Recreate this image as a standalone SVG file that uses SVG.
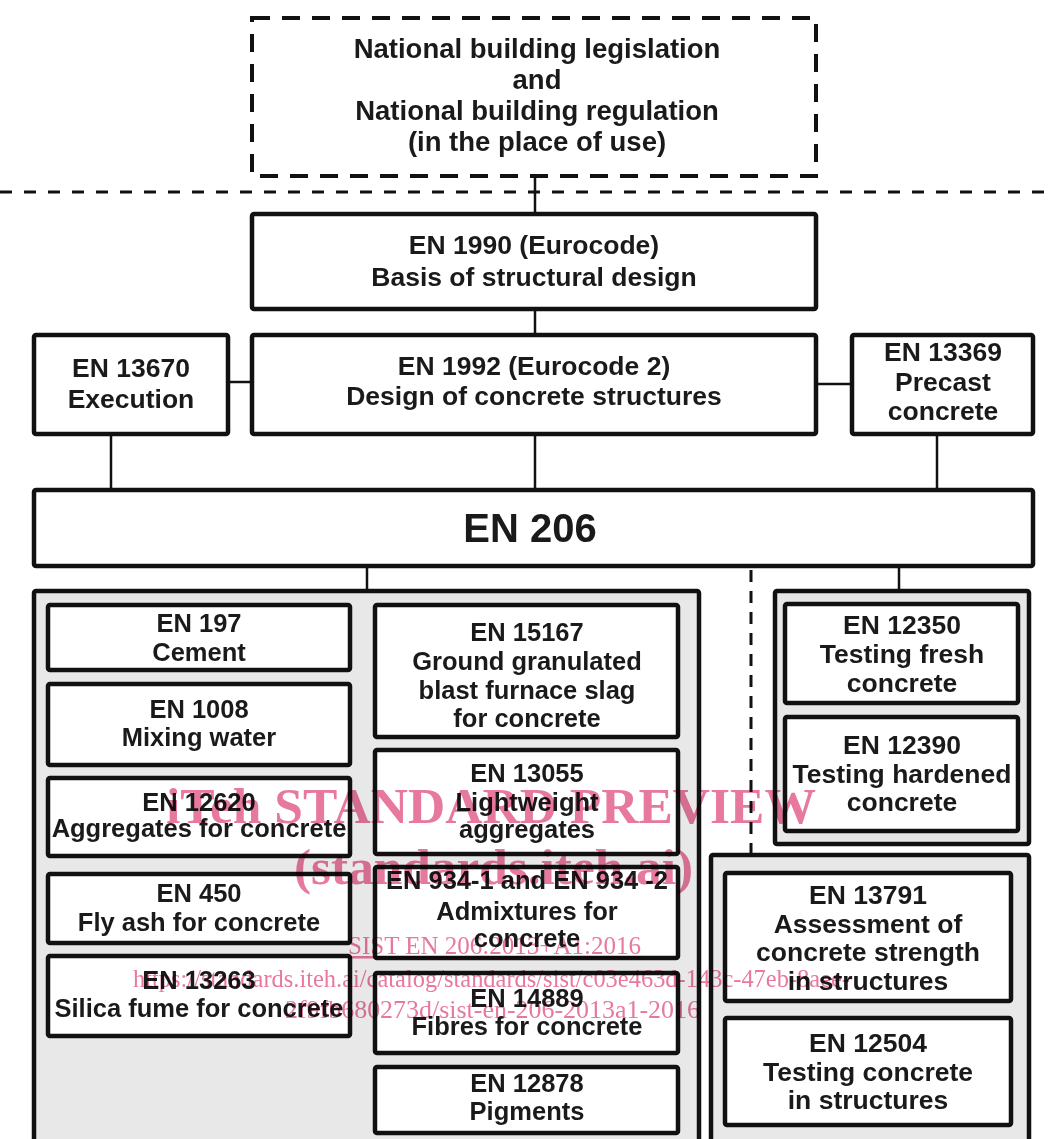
<svg xmlns="http://www.w3.org/2000/svg" width="1054" height="1139" viewBox="0 0 1054 1139">
<style>
.bx{fill:#fff;stroke:#111;stroke-width:4.5}
.pn{fill:#e8e8e8;stroke:#111;stroke-width:4.5}
.dbx{fill:#fff;stroke:#111;stroke-width:4;stroke-dasharray:18 12}
.ln{stroke:#111;stroke-width:2.5;fill:none}
.dl{stroke:#111;stroke-width:3;fill:none;stroke-dasharray:12 12}
.dv{stroke:#111;stroke-width:3;fill:none;stroke-dasharray:12 9}
text{font-family:"Liberation Sans",Arial,sans-serif;font-weight:bold;font-size:25.5px;fill:#1a1a1a;text-anchor:middle}
.t27{font-size:27.5px}
.t26{font-size:26.5px}
.big{font-size:40px}
.wm{font-family:"Liberation Serif","Times New Roman",serif;fill:#e8799e;mix-blend-mode:multiply;text-anchor:start}
.wmb{font-weight:bold;font-size:50px}
.wms{font-weight:normal;font-size:25px}
</style>
<rect x="0" y="0" width="1054" height="1139" fill="#fff"/>
<g id="connectors">
<line class="dl" x1="0" y1="192" x2="1054" y2="192"/>
<line class="ln" x1="535" y1="178" x2="535" y2="212"/>
<line class="ln" x1="535" y1="311" x2="535" y2="333"/>
<line class="ln" x1="230" y1="382" x2="250" y2="382"/>
<line class="ln" x1="818" y1="384" x2="850" y2="384"/>
<line class="ln" x1="111" y1="436" x2="111" y2="488"/>
<line class="ln" x1="535" y1="436" x2="535" y2="488"/>
<line class="ln" x1="937" y1="436" x2="937" y2="488"/>
<line class="ln" x1="367" y1="568" x2="367" y2="590"/>
<line class="ln" x1="899" y1="568" x2="899" y2="589"/>
<line class="dv" x1="751" y1="570" x2="751" y2="853"/>
</g>
<g id="national">
<rect class="dbx" x="252" y="18" width="564" height="158"/>
<text class="t27" x="537" y="58">National building legislation</text>
<text class="t27" x="537" y="89">and</text>
<text class="t27" x="537" y="120">National building regulation</text>
<text class="t27" x="537" y="151">(in the place of use)</text>
</g>
<g id="en1990">
<rect class="bx" x="252" y="214" width="564" height="95" rx="2"/>
<text class="t26" x="534" y="254">EN 1990 (Eurocode)</text>
<text class="t26" x="534" y="286">Basis of structural design</text>
</g>
<g id="en13670">
<rect class="bx" x="34" y="335" width="194" height="99" rx="2"/>
<text class="t26" x="131" y="377">EN 13670</text>
<text class="t26" x="131" y="408">Execution</text>
</g>
<g id="en1992">
<rect class="bx" x="252" y="335" width="564" height="99" rx="2"/>
<text class="t26" x="534" y="375">EN 1992 (Eurocode 2)</text>
<text class="t26" x="534" y="405">Design of concrete structures</text>
</g>
<g id="en13369">
<rect class="bx" x="852" y="335" width="181" height="99" rx="2"/>
<text class="t26" x="943" y="361">EN 13369</text>
<text class="t26" x="943" y="391">Precast</text>
<text class="t26" x="943" y="420">concrete</text>
</g>
<g id="en206">
<rect class="bx" x="34" y="490" width="999" height="76" rx="2"/>
<text class="big" x="530" y="542">EN 206</text>
</g>
<g id="panel-constituents">
<rect class="pn" x="34" y="591" width="665" height="600" rx="2"/>
</g>
<g id="panel-testing">
<rect class="pn" x="775" y="591" width="254" height="253" rx="2"/>
</g>
<g id="panel-structures">
<rect class="pn" x="711" y="855" width="318" height="320" rx="2"/>
</g>
<g id="en197">
<rect class="bx" x="48" y="605" width="302" height="65" rx="2"/>
<text x="199" y="632">EN 197</text>
<text x="199" y="661">Cement</text>
</g>
<g id="en1008">
<rect class="bx" x="48" y="684" width="302" height="81" rx="2"/>
<text x="199" y="718">EN 1008</text>
<text x="199" y="746">Mixing water</text>
</g>
<g id="en12620">
<rect class="bx" x="48" y="778" width="302" height="78" rx="2"/>
<text x="199" y="811">EN 12620</text>
<text x="199" y="837">Aggregates for concrete</text>
</g>
<g id="en450">
<rect class="bx" x="48" y="874" width="302" height="69" rx="2"/>
<text x="199" y="902">EN 450</text>
<text x="199" y="931">Fly ash for concrete</text>
</g>
<g id="en13263">
<rect class="bx" x="48" y="956" width="302" height="80" rx="2"/>
<text x="199" y="989">EN 13263</text>
<text x="199" y="1017">Silica fume for concrete</text>
</g>
<g id="en15167">
<rect class="bx" x="375" y="605" width="303" height="132" rx="2"/>
<text x="527" y="641">EN 15167</text>
<text x="527" y="670">Ground granulated</text>
<text x="527" y="699">blast furnace slag</text>
<text x="527" y="727">for concrete</text>
</g>
<g id="en13055">
<rect class="bx" x="375" y="750" width="303" height="104" rx="2"/>
<text x="527" y="782">EN 13055</text>
<text x="527" y="811">Lightweight</text>
<text x="527" y="838">aggregates</text>
</g>
<g id="en934">
<rect class="bx" x="375" y="867" width="303" height="91" rx="2"/>
<text x="527" y="889">EN 934-1 and EN 934 -2</text>
<text x="527" y="920">Admixtures for</text>
<text x="527" y="947">concrete</text>
</g>
<g id="en14889">
<rect class="bx" x="375" y="973" width="303" height="80" rx="2"/>
<text x="527" y="1007">EN 14889</text>
<text x="527" y="1035">Fibres for concrete</text>
</g>
<g id="en12878">
<rect class="bx" x="375" y="1067" width="303" height="66" rx="2"/>
<text x="527" y="1092">EN 12878</text>
<text x="527" y="1120">Pigments</text>
</g>
<g id="en12350">
<rect class="bx" x="785" y="604" width="233" height="99" rx="2"/>
<text class="t26" x="902" y="634">EN 12350</text>
<text class="t26" x="902" y="663">Testing fresh</text>
<text class="t26" x="902" y="692">concrete</text>
</g>
<g id="en12390">
<rect class="bx" x="785" y="717" width="233" height="114" rx="2"/>
<text class="t26" x="902" y="754">EN 12390</text>
<text class="t26" x="902" y="783">Testing hardened</text>
<text class="t26" x="902" y="811">concrete</text>
</g>
<g id="en13791">
<rect class="bx" x="725" y="873" width="286" height="128" rx="2"/>
<text class="t26" x="868" y="904">EN 13791</text>
<text class="t26" x="868" y="933">Assessment of</text>
<text class="t26" x="868" y="961">concrete strength</text>
<text class="t26" x="868" y="990">in structures</text>
</g>
<g id="en12504">
<rect class="bx" x="725" y="1018" width="286" height="107" rx="2"/>
<text class="t26" x="868" y="1052">EN 12504</text>
<text class="t26" x="868" y="1081">Testing concrete</text>
<text class="t26" x="868" y="1109">in structures</text>
</g>
<g id="watermark">
<text class="wm wmb" x="166" y="823" textLength="650" lengthAdjust="spacingAndGlyphs">iTeh STANDARD PREVIEW</text>
<text class="wm wmb" x="294" y="884" textLength="399" lengthAdjust="spacingAndGlyphs">(standards.iteh.ai)</text>
<text class="wm wms" x="348" y="954" textLength="293" lengthAdjust="spacingAndGlyphs" text-decoration="underline">SIST EN 206:2013+A1:2016</text>
<text class="wm wms" x="133" y="987" textLength="717" lengthAdjust="spacingAndGlyphs">https://standards.iteh.ai/catalog/standards/sist/c03e463d-143c-47eb-8aee-</text>
<text class="wm wms" x="285" y="1018" textLength="415" lengthAdjust="spacingAndGlyphs">2f9fb680273d/sist-en-206-2013a1-2016</text>
</g>
</svg>
